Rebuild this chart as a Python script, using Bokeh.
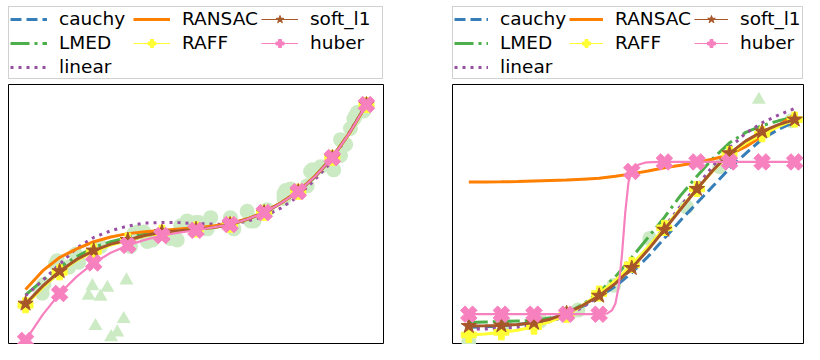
from bokeh.plotting import figure
from bokeh.models import Legend, LegendItem, Range1d
from bokeh.layouts import row, column
from bokeh.embed import file_html
from bokeh.resources import INLINE

# ---------------- colours ----------------
BLUE = "#377eb8"
GREEN = "#4daf4a"
PURPLE = "#984ea3"
ORANGE = "#ff7f00"
YELLOW = "#ffff33"
BROWN = "#a65628"
PINK = "#f781bf"
POINT = "#ccebc5"

# legend entries, column by column (3 rows); None leaves a cell empty
LEGEND_ORDER = ["cauchy", "LMED", "linear", "RANSAC", "RAFF", None, "soft_l1", "huber"]

# ---------------- left panel data ----------------
L_X = [0, 0.5, 1, 1.5, 2, 2.5, 3, 3.5, 4, 4.5, 5, 5.5, 6, 6.5, 7, 7.5, 8, 8.5, 9, 9.5, 10]
L_CAUCHY = [4.6, 6.4, 8.0, 9.25, 10.2, 10.85, 11.3, 11.75, 12.12, 12.28, 12.44, 12.64, 12.94, 13.5, 14.2, 15.2, 16.4, 17.95, 19.95, 22.5, 25.5]
L_LMED = [5.6, 7.1, 8.5, 9.6, 10.55, 11.15, 11.6, 11.95, 12.2, 12.35, 12.5, 12.65, 12.95, 13.5, 14.25, 15.25, 16.45, 18.05, 20.0, 22.55, 25.5]
L_LINEAR = [5.5, 7.1, 8.8, 10.5, 11.6, 12.3, 12.8, 13.1, 13.17, 13.15, 13.05, 13.0, 12.95, 13.3, 13.8, 14.7, 15.9, 17.7, 19.6, 22.6, 25.5]
L_RANSAC = [6.15, 8.1, 9.5, 10.4, 11.15, 11.65, 12.0, 12.2, 12.33, 12.48, 12.62, 12.8, 13.05, 13.55, 14.25, 15.25, 16.45, 18.05, 20.0, 22.55, 25.5]
L_RAFF = [4.5, 6.35, 7.95, 9.2, 10.13, 10.8, 11.28, 11.75, 12.1, 12.27, 12.43, 12.63, 12.93, 13.48, 14.18, 15.18, 16.38, 17.98, 19.93, 22.45, 25.45]
L_SOFT = [4.67, 6.5, 8.07, 9.3, 10.23, 10.9, 11.33, 11.8, 12.15, 12.3, 12.45, 12.65, 12.95, 13.5, 14.2, 15.2, 16.4, 18.0, 19.95, 22.5, 25.5]
L_HUBER = [0.83, 3.5, 5.73, 7.5, 8.93, 10.0, 10.77, 11.35, 11.8, 12.1, 12.35, 12.65, 12.95, 13.5, 14.2, 15.2, 16.4, 18.0, 19.95, 22.5, 25.5]

L_IN_X = [0.44, 0.49, 0.54, 0.88, 0.93, 1.27, 1.47, 1.56, 2.2, 3.08, 3.18, 3.28, 3.47, 3.57, 3.72,
          4.25, 4.45, 4.55, 4.74, 4.99, 5.08, 5.33, 5.43, 6.01, 6.11, 6.5, 6.6, 6.7, 7.09, 7.58,
          7.63, 7.58, 7.77, 8.26, 8.36, 8.41, 8.65, 8.9, 9.04, 9.24, 9.24, 9.39, 9.53, 9.63, 9.68,
          9.73, 9.92]
L_IN_Y = [6.0, 5.77, 6.67, 8.83, 9.17, 8.5, 9.83, 9.0, 10.67, 10.67, 12.0, 12.17, 12.17, 11.17, 11.33,
          11.5, 11.33, 12.83, 13.33, 13.17, 13.17, 12.5, 13.67, 13.67, 12.5, 14.33, 13.33, 13.33, 14.5, 16.17,
          16.5, 15.67, 16.67, 17.0, 18.5, 18.67, 19.0, 19.17, 18.67, 21.83, 20.17, 21.33, 23.0, 24.0, 24.33,
          24.67, 24.83]
L_OUT_X = [1.85, 1.96, 2.2, 2.4, 2.96, 2.05, 2.88, 2.69, 2.51]
L_OUT_Y = [5.5, 6.5, 5.4, 6.33, 7.1, 2.33, 3.07, 1.67, 1.17]

# ---------------- right panel data ----------------
R_X = [0, 0.5, 1, 1.5, 2, 2.5, 3, 3.5, 4, 4.5, 5, 5.5, 6, 6.5, 7, 7.5, 8, 8.5, 9, 9.5, 10]
R_CAUCHY = [2.2, 2.25, 2.35, 2.5, 2.7, 3.1, 3.6, 4.4, 5.4, 6.5, 7.9, 9.6, 11.5, 13.4, 15.2, 17.0, 18.8, 20.4, 21.9, 22.9, 23.7]
R_LMED = [2.7, 2.75, 2.8, 2.85, 2.9, 3.2, 3.7, 4.6, 5.9, 7.5, 9.5, 11.6, 13.7, 16.0, 18.0, 19.9, 21.5, 22.6, 23.3, 23.8, 24.2]
R_LINEAR = [2.0, 2.02, 2.1, 2.2, 2.4, 2.8, 3.4, 4.3, 5.5, 6.9, 8.6, 10.5, 12.7, 14.9, 17.0, 19.1, 21.0, 22.5, 23.6, 24.4, 25.1]
R_RANSAC = [17.4, 17.4, 17.42, 17.45, 17.5, 17.55, 17.6, 17.7, 17.8, 18.0, 18.25, 18.55, 18.9, 19.15, 19.45, 19.8, 20.25, 21.1, 22.2, 23.3, 24.5]
R_RAFF = [1.4, 1.5, 1.67, 1.9, 2.27, 2.8, 3.5, 4.5, 5.73, 7.1, 8.73, 10.6, 12.6, 14.65, 16.67, 18.6, 20.33, 21.5, 22.4, 23.2, 23.93]
R_SOFT = [2.33, 2.36, 2.4, 2.5, 2.67, 3.05, 3.67, 4.5, 5.5, 6.8, 8.4, 10.3, 12.4, 14.55, 16.67, 18.65, 20.4, 21.7, 22.67, 23.4, 23.93]
R_HUBER_X = [0, 1, 2, 3, 4, 4.25, 4.4, 4.5, 4.6, 4.7, 4.8, 4.9, 5, 5.2, 5.4, 5.6, 6, 7, 8, 9, 10]
R_HUBER = [3.57, 3.57, 3.57, 3.57, 3.57, 3.65, 4.0, 4.7, 6.5, 9.8, 14.2, 17.4, 18.5, 19.2, 19.42, 19.48, 19.5, 19.5, 19.5, 19.5, 19.5]

R_IN_X = [0.0, 1.1, 2.2, 3.35, 4.45, 5.55, 6.68, 7.7, 9.9]
R_IN_Y = [0.73, 2.5, 2.9, 4.0, 6.6, 11.5, 14.8, 19.0, 23.8]
R_OUT_X = [8.9]
R_OUT_Y = [26.0]

Y_LOW, Y_HIGH = 0.4, 27.6
LEG_H = 84
PLOT_H = 260


def integer_points(xs, ys):
    mx = [x for x in xs if float(x).is_integer()]
    my = [y for x, y in zip(xs, ys) if float(x).is_integer()]
    return mx, my


def legend_fig(width, border_left, glyph_width, standoff, label_width, xs, series, huber_xs):
    # a strip holding only the legend; its renderers sit outside its (empty) ranges
    f = figure(width=width, height=LEG_H, x_range=Range1d(-100, -99), y_range=Range1d(-100, -99),
               output_backend="svg", toolbar_location=None,
               x_axis_location=None, y_axis_location=None,
               min_border_left=border_left, min_border_right=0,
               min_border_top=6, min_border_bottom=0)
    f.outline_line_color = None
    f.background_fill_color = "white"
    f.border_fill_color = "white"
    f.grid.visible = False
    cauchy, lmed, linear, ransac, raff, soft, huber = series
    m_raff = integer_points(xs, raff)
    m_soft = integer_points(xs, soft)
    m_hub = integer_points(huber_xs, huber)
    leg = {
        "cauchy": [f.line(xs, cauchy, color=BLUE, line_width=3, line_dash="11 5")],
        "LMED": [f.line(xs, lmed, color=GREEN, line_width=3, line_dash="19 5 3 5")],
        "linear": [f.line(xs, linear, color=PURPLE, line_width=3, line_dash="3 5")],
        "RANSAC": [f.line(xs, ransac, color=ORANGE, line_width=3)],
        "RAFF": [f.line(*m_raff, color=YELLOW, line_width=1.2),
                 f.scatter(*m_raff, marker="plus", size=15, color=YELLOW)],
        "soft_l1": [f.line(*m_soft, color=BROWN, line_width=1.2),
                    f.scatter(*m_soft, marker="star", size=16, color=BROWN)],
        "huber": [f.line(*m_hub, color=PINK, line_width=1.2),
                  f.scatter(*m_hub, marker="plus", size=17, angle=0.785398, color=PINK)],
    }
    spacer = f.line(xs, cauchy, line_alpha=0)
    items = []
    for k in LEGEND_ORDER:
        if k is None:
            items.append(LegendItem(label=" ", renderers=[spacer]))
        else:
            items.append(LegendItem(label=k, renderers=leg[k]))
    legend = Legend(items=items,
                    location="top_left", orientation="vertical", nrows=3,
                    glyph_width=glyph_width, glyph_height=20, label_height=20,
                    label_standoff=standoff, label_width=label_width,
                    spacing=3, padding=1, margin=0,
                    label_text_font="DejaVu Sans", label_text_font_size="18.5px",
                    label_text_color="black",
                    border_line_color="#cccccc", border_line_width=1, border_line_alpha=0.9,
                    background_fill_color="white", background_fill_alpha=1.0)
    f.add_layout(legend, "center")
    return f


def panel(width, x_end, border_left, border_right, xs, series, huber_xs, in_x, in_y, out_x, out_y):
    p = figure(width=width, height=PLOT_H, x_range=Range1d(-0.5, x_end), y_range=Range1d(Y_LOW, Y_HIGH),
               output_backend="svg", toolbar_location=None,
               x_axis_location=None, y_axis_location=None,
               min_border_left=border_left, min_border_right=border_right,
               min_border_top=0, min_border_bottom=0)
    p.outline_line_color = "black"
    p.outline_line_width = 1
    p.background_fill_color = "white"
    p.border_fill_color = "white"
    p.grid.visible = False

    p.scatter(in_x, in_y, marker="circle", size=15, color=POINT, line_color=None)
    p.scatter(out_x, out_y, marker="triangle", size=14, color=POINT, line_color=None)

    cauchy, lmed, linear, ransac, raff, soft, huber = series
    p.line(xs, cauchy, color=BLUE, line_width=3, line_dash="11 5")
    p.line(xs, lmed, color=GREEN, line_width=3, line_dash="19 5 3 5")
    p.line(xs, linear, color=PURPLE, line_width=3, line_dash="3 5")
    p.line(xs, ransac, color=ORANGE, line_width=3)

    p.line(xs, raff, color=YELLOW, line_width=3)
    mx, my = integer_points(xs, raff)
    p.scatter(mx, my, marker="plus", size=15, color=YELLOW)

    p.line(xs, soft, color=BROWN, line_width=3)
    mx, my = integer_points(xs, soft)
    p.scatter(mx, my, marker="star", size=16, color=BROWN)

    p.line(huber_xs, huber, color=PINK, line_width=2.2)
    mx, my = integer_points(huber_xs, huber)
    p.scatter(mx, my, marker="plus", size=17, angle=0.785398, color=PINK)
    return p


L_SERIES = (L_CAUCHY, L_LMED, L_LINEAR, L_RANSAC, L_RAFF, L_SOFT, L_HUBER)
R_SERIES = (R_CAUCHY, R_LMED, R_LINEAR, R_RANSAC, R_RAFF, R_SOFT, R_HUBER)

leg1 = legend_fig(444, 3, 37, 12, 71, L_X, L_SERIES, L_X)
leg2 = legend_fig(360, 5, 34, 12, 0, R_X, R_SERIES, R_HUBER_X)
p1 = panel(444, 10.5, 8, 61, L_X, L_SERIES, L_X, L_IN_X, L_IN_Y, L_OUT_X, L_OUT_Y)
p2 = panel(360, 10.3, 8, 0, R_X, R_SERIES, R_HUBER_X, R_IN_X, R_IN_Y, R_OUT_X, R_OUT_Y)

layout = row(column(leg1, p1), column(leg2, p2))
open("out.html", "w").write(file_html(layout, INLINE))
